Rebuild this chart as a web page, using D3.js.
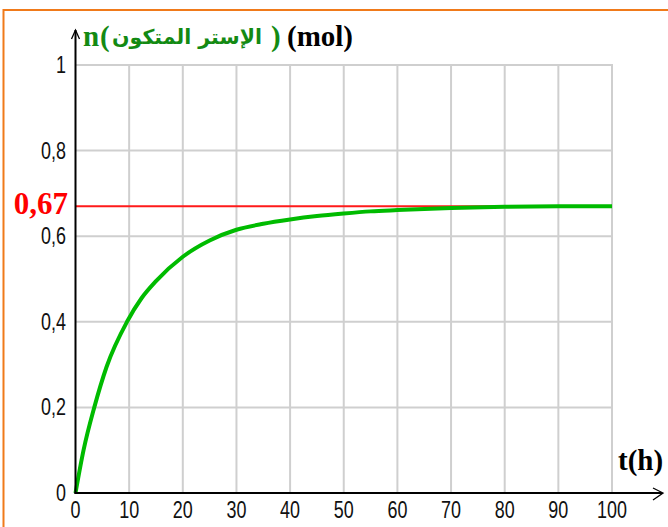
<!DOCTYPE html>
<html><head><meta charset="utf-8">
<script src="https://cdn.jsdelivr.net/npm/d3@7/dist/d3.min.js"></script>
<style>
html,body{margin:0;padding:0;background:#fff;}
svg{display:block;}
</style></head>
<body>
<svg id="c" width="668" height="527"></svg>
<script>
// Data
const timeH = [0, 1.5, 3.5, 5.8, 9.6, 12.3, 15, 20, 25, 30, 35, 40, 45, 50, 55, 60, 70, 80, 90, 100];
const esterMol = [0, 0.1, 0.2, 0.295, 0.4, 0.455, 0.495, 0.552, 0.59, 0.615, 0.629, 0.639, 0.647, 0.653, 0.658, 0.661, 0.666, 0.669, 0.67, 0.67];
const xTicks = [0, 10, 20, 30, 40, 50, 60, 70, 80, 90, 100];
const yTicks = [0, 0.2, 0.4, 0.6, 0.8, 1];
const yTickLabels = ["0", "0,2", "0,4", "0,6", "0,8", "1"];
const limitValue = 0.67;
const limitLabel = "0,67";
const limitEndT = 98;

const svg = d3.select("#c");
const x = d3.scaleLinear().domain([0, 100]).range([75.5, 612]);
const y = d3.scaleLinear().domain([0, 1]).range([493, 65]);

// orange frame
svg.append("line").attr("x1", 3).attr("x2", 668).attr("y1", 10).attr("y2", 10)
  .attr("stroke", "#f07a1a").attr("stroke-width", 2);
svg.append("line").attr("x1", 3.5).attr("x2", 3.5).attr("y1", 9).attr("y2", 527)
  .attr("stroke", "#f07a1a").attr("stroke-width", 2);

// grid
const grid = svg.append("g").attr("stroke", "#cfcfcf").attr("stroke-width", 2);
xTicks.filter(d => d > 0).forEach(d => {
  grid.append("line").attr("x1", x(d)).attr("x2", x(d)).attr("y1", y(1)).attr("y2", y(0));
});
yTicks.filter(d => d > 0).forEach(d => {
  grid.append("line").attr("x1", x(0)).attr("x2", x(100) + 1).attr("y1", y(d)).attr("y2", y(d));
});

// limit line
svg.append("line").attr("x1", x(0)).attr("x2", x(limitEndT))
  .attr("y1", y(limitValue)).attr("y2", y(limitValue))
  .attr("stroke", "#ff1a1a").attr("stroke-width", 2);

// curve
const line = d3.line().x((d, i) => x(timeH[i])).y(d => y(d)).curve(d3.curveMonotoneX);
svg.append("path").datum(esterMol).attr("d", line)
  .attr("fill", "none").attr("stroke", "#00bb00").attr("stroke-width", 4)
  .attr("stroke-linejoin", "round");

// axes
const ax = svg.append("g").attr("stroke", "#000").attr("fill", "none");
ax.append("line").attr("x1", x(0)).attr("x2", x(0)).attr("y1", y(0) + 1).attr("y2", 30).attr("stroke-width", 2);
ax.append("path").attr("d", `M${x(0) - 4},${39} L${x(0)},${30} L${x(0) + 4},${39}`).attr("stroke-width", 1.3);
ax.append("line").attr("x1", x(0) - 1).attr("x2", 662).attr("y1", y(0)).attr("y2", y(0)).attr("stroke-width", 2);
ax.append("path").attr("d", `M${653},${488} L${663},${y(0)} L${653},${500}`).attr("stroke-width", 1.3);

// tick labels
const tickFont = "'Liberation Sans', Arial, sans-serif";
yTicks.forEach((d, i) => {
  svg.append("g").attr("transform", `translate(66,${y(d) + 8})`)
    .append("text").attr("transform", "scale(0.78,1)")
    .attr("text-anchor", "end").attr("font-family", tickFont).attr("font-size", 23)
    .attr("fill", "#111").text(yTickLabels[i]);
});
xTicks.forEach(d => {
  svg.append("g").attr("transform", `translate(${x(d)},518)`)
    .append("text").attr("transform", "scale(0.78,1)")
    .attr("text-anchor", "middle").attr("font-family", tickFont).attr("font-size", 23)
    .attr("fill", "#111").text(String(d));
});

// limit label
svg.append("text").attr("x", 68).attr("y", 214).attr("text-anchor", "end")
  .attr("font-family", "'Liberation Serif', 'Times New Roman', serif").attr("font-weight", "bold")
  .attr("font-size", 31).attr("fill", "#ff0000").text(limitLabel);

// y axis title
const serif = "'Liberation Serif', 'Times New Roman', serif";
const titleGreen = "#138a13";
svg.append("text").attr("x", 83).attr("y", 46).attr("font-family", serif).attr("font-weight", "bold")
  .attr("font-size", 29).attr("fill", titleGreen).text("n");
svg.append("text").attr("x", 100).attr("y", 46).attr("font-family", serif).attr("font-weight", "bold")
  .attr("font-size", 29).attr("fill", titleGreen).attr("direction", "ltr").attr("unicode-bidi", "embed").text("(");
svg.append("text").attr("x", 112).attr("y", 44).attr("font-family", "'DejaVu Sans', sans-serif")
  .attr("font-size", 20.5).attr("font-weight", "bold").attr("fill", titleGreen)
  .attr("textLength", 150).attr("lengthAdjust", "spacingAndGlyphs").text("الإستر المتكون");
svg.append("text").attr("x", 271).attr("y", 46).attr("font-family", serif).attr("font-weight", "bold")
  .attr("font-size", 29).attr("fill", titleGreen).attr("direction", "ltr").attr("unicode-bidi", "embed").text(")");
svg.append("text").attr("x", 287).attr("y", 46).attr("font-family", serif).attr("font-weight", "bold")
  .attr("font-size", 29).attr("fill", "#000").text("(mol)");

// x axis title
svg.append("text").attr("x", 618).attr("y", 470).attr("font-family", serif).attr("font-weight", "bold")
  .attr("font-size", 29).attr("fill", "#000").text("t(h)");
</script>
</body></html>
